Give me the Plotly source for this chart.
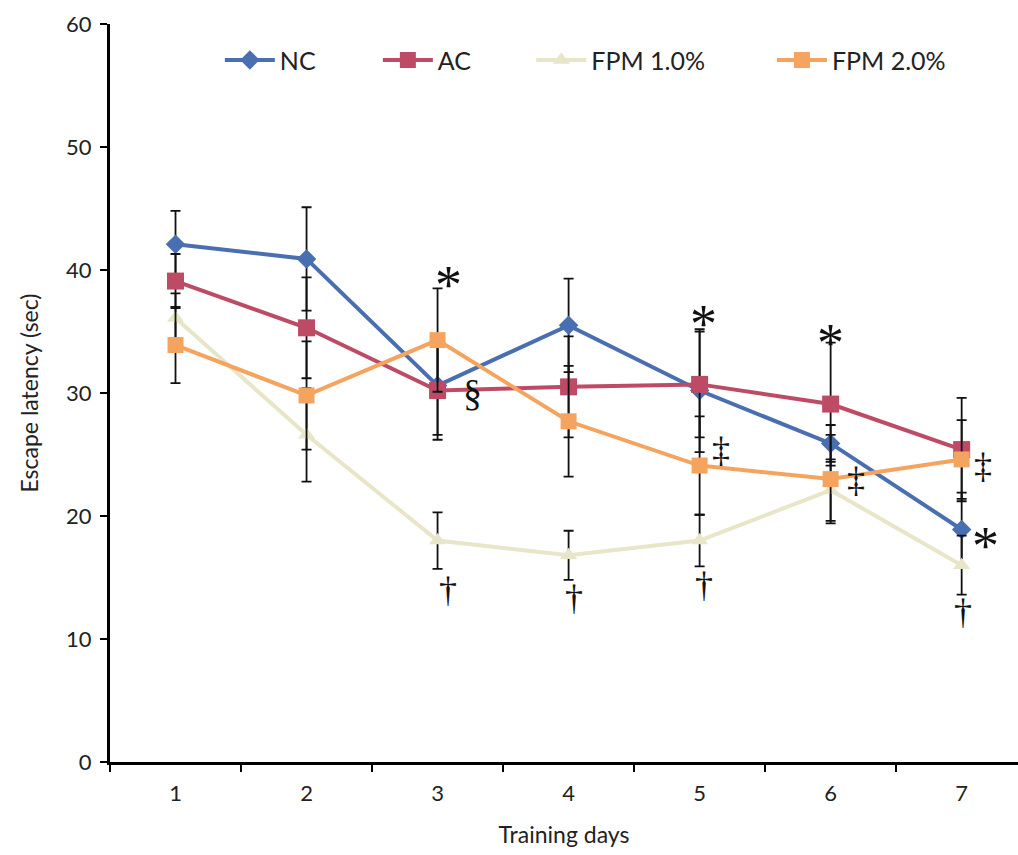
import plotly.graph_objects as go

days = ["1", "2", "3", "4", "5", "6", "7"]

nc = [42.1, 40.9, 30.6, 35.5, 30.2, 25.9, 18.9]
nc_err = [2.7, 4.2, 4.0, 3.8, 5.0, 1.5, 3.0]

ac = [39.1, 35.3, 30.2, 30.5, 30.7, 29.1, 25.4]
ac_err = [2.2, 4.1, 4.0, 4.1, 4.3, 5.0, 4.2]

fpm1 = [36.1, 26.6, 18.0, 16.8, 18.0, 22.1, 16.0]
fpm1_err = [2.0, 3.8, 2.3, 2.0, 2.1, 2.5, 2.4]

fpm2 = [33.9, 29.8, 34.3, 27.7, 24.1, 23.0, 24.6]
fpm2_err = [3.1, 4.4, 4.2, 4.5, 4.0, 3.6, 3.2]

# significance marks: (category index, y value, symbol)
marks_x = [2.08, 2.27, 2.08, 3.04, 4.03, 6.01, 4.03, 5.0, 6.18, 4.16, 5.19, 6.16]
marks_y = [39.8, 30.0, 14.0, 13.3, 14.4, 12.2, 36.7, 35.1, 18.6, 25.4, 22.9, 24.1]
marks_t = ["*", "§", "†", "†", "†", "†", "*", "*", "*", "‡", "‡", "‡"]

series = [
    ("NC", nc, nc_err, "#4A6FB0", "diamond", 15, "legend"),
    ("AC", ac, ac_err, "#BE4B66", "square", 17, "legend2"),
    ("FPM 1.0%", fpm1, fpm1_err, "#E8E5C9", "triangle-up", 15, "legend3"),
    ("FPM 2.0%", fpm2, fpm2_err, "#F5A45F", "square", 16, "legend4"),
]

fig = go.Figure()
for name, vals, errs, col, sym, size, lg in series:
    fig.add_trace(go.Scatter(
        x=days, y=vals, name=name, mode="lines+markers",
        line=dict(color=col, width=4),
        marker=dict(color=col, symbol=sym, size=size),
        error_y=dict(type="data", array=errs, visible=True,
                     color="#111111", thickness=1.8, width=5),
        legend=lg, showlegend=True,
    ))

sym_size = {"*": 54, "§": 38, "†": 36, "‡": 36}
sym_shift = {"*": -13, "§": 0, "†": 0, "‡": 0}
for xv, yv, t in zip(marks_x, marks_y, marks_t):
    fig.add_annotation(x=xv, y=yv, text=t, showarrow=False,
                       yshift=sym_shift[t],
                       font=dict(family="Liberation Serif", size=sym_size[t],
                                 color="#111111"))

leg_common = dict(orientation="h", yanchor="middle", y=0.951, xanchor="left",
                  bgcolor="rgba(0,0,0,0)", font=dict(family="Lato", size=25, color="#222"),
                  itemwidth=50)

fig.update_layout(
    width=1018, height=855,
    margin=dict(l=110, r=0, t=24, b=93),
    paper_bgcolor="white", plot_bgcolor="white",
    showlegend=True,
    font=dict(family="Lato", size=22, color="#222222"),
    legend=dict(x=0.121, **leg_common),
    legend2=dict(x=0.295, **leg_common),
    legend3=dict(x=0.464, **leg_common),
    legend4=dict(x=0.729, **leg_common),
    xaxis=dict(
        type="category", range=[-0.5, 6.43], tickson="boundaries",
        showline=True, linecolor="black", linewidth=3,
        ticks="outside", ticklen=7, tickwidth=2, tickcolor="black",
        showgrid=False, zeroline=False, ticklabelstandoff=10,
        tickfont=dict(family="Lato", size=22),
        title=dict(text="Training days", font=dict(family="Lato", size=23), standoff=22),
    ),
    yaxis=dict(
        range=[0, 60], tickvals=[0, 10, 20, 30, 40, 50, 60],
        showline=True, linecolor="black", linewidth=3,
        ticks="outside", ticklen=7, tickwidth=2, tickcolor="black",
        showgrid=False, zeroline=False, ticklabelstandoff=4,
        tickfont=dict(family="Lato", size=22),
        title=dict(text="Escape latency (sec)", font=dict(family="Lato", size=23), standoff=22),
    ),
)

fig.write_html("out.html")
